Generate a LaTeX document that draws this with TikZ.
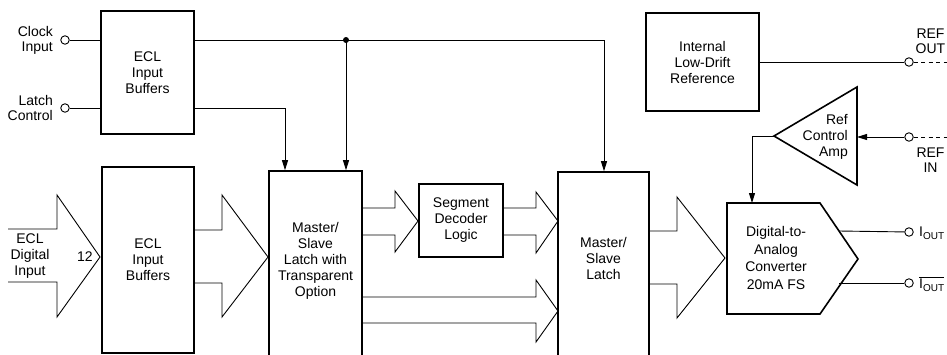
\documentclass[tikz,border=0pt]{standalone}
\usepackage{fontspec}
\setmainfont{Liberation Sans}
\usetikzlibrary{arrows.meta}
\begin{document}
\begin{tikzpicture}[x=1pt,y=-1pt,
  font=\fontsize{14}{16}\selectfont,
  blk/.style={draw, line width=1.6pt, inner sep=0pt, align=center},
  wire/.style={line width=0.9pt},
  bus/.style={line width=0.9pt, line join=miter},
  arr/.style={wire, -{Triangle[length=10pt,width=6pt]}},
  pin/.style={circle, draw, line width=0.9pt, minimum size=8.5pt, inner sep=0pt, fill=white},
  txt/.style={align=center, inner sep=0pt},
  dsh/.style={wire, dash pattern=on 4pt off 3.5pt}]
\useasboundingbox (0,0) rectangle (947,354);

% blocks
\node[blk, minimum width=93pt, minimum height=123pt] (ecl1) at (147.5,72.5) {ECL\\Input\\Buffers};
\node[blk, minimum width=92pt, minimum height=186pt] (ecl2) at (148,260) {ECL\\Input\\Buffers};
\node[blk, minimum width=93pt, minimum height=200pt] (m1) at (315.5,271) {};
\node[txt] (m1t) at (315.5,261) {Master/\\Slave\\Latch with\\Transparent\\Option};
\node[blk, minimum width=84pt, minimum height=73pt] (seg) at (461,220.5) {Segment\\Decoder\\Logic};
\node[blk, minimum width=91pt, minimum height=200pt] (m2) at (603.5,272) {};
\node[txt] (m2t) at (603.5,258) {Master/\\Slave\\Latch};
\node[blk, minimum width=113pt, minimum height=98pt] (ref) at (702.5,62) {Internal\\Low-Drift\\Reference};

% DAC
\draw[line width=1.6pt, line join=miter] (727,203) -- (820,203) -- (858,259) -- (820,314) -- (727,314) -- cycle;
\node[txt, font=\fontsize{14}{17.5}\selectfont] (dac) at (776,258) {Digital-to-\\Analog\\Converter\\20mA FS};
\coordinate (dacTop) at (752,203);
\coordinate (dacO1) at (839,231);
\coordinate (dacO2) at (839,283);

% amp
\draw[line width=1.6pt, line join=miter] (774,136) -- (857,87) -- (857,185) -- cycle;
\node[txt, align=right, anchor=east] (ampl) at (848,137) {Ref\\Control\\Amp};
\coordinate (ampTip) at (774,136);
\coordinate (ampIn) at (857,137);
\coordinate (ampL) at (752,136);

% pins
\node[pin] (clk) at (65,40) {};
\node[pin] (lat) at (65,108) {};
\node[pin] (refo) at (909,62) {};
\node[pin] (refi) at (909,137) {};
\node[pin] (io1) at (909,232) {};
\node[pin] (io2) at (909,283) {};

% pin labels
\node[txt, align=right, anchor=east, font=\fontsize{14}{15}\selectfont] (clkl) at (53,40) {Clock\\Input};
\node[txt, align=right, anchor=east, font=\fontsize{14}{15}\selectfont] (latl) at (53,108) {Latch\\Control};
\node[txt] (dinl) at (30,256) {ECL\\Digital\\Input};
\node[txt] (n12) at (85,257) {12};
\node[txt, font=\fontsize{14}{15}\selectfont] (refol) at (930.5,41) {REF\\OUT};
\node[txt, font=\fontsize{14}{15}\selectfont] (refil) at (930.5,160) {REF\\IN};
\node[txt, anchor=west] (io1l) at (919,233) {I\raisebox{-0.45ex}{\fontsize{10}{10}\selectfont OUT}};
\node[txt, anchor=west] (io2l) at (919,284) {$\overline{\hbox{I\raisebox{-0.45ex}{\fontsize{10}{10}\selectfont OUT}}}$};

% control wires
\coordinate (jn) at (346,40);
\coordinate (clkR) at (604,40);
\coordinate (latC) at (285,108);
\draw[wire] (clk) -- (clk -| ecl1.west);
\draw[wire] (lat) -- (lat -| ecl1.west);
\draw[wire] (clk -| ecl1.east) -- (jn);
\draw[arr] (jn) -- (jn |- m1.north);
\draw[arr] (jn) -- (clkR) -- (clkR |- m2.north);
\fill (jn) circle (3pt);
\draw[arr] (lat -| ecl1.east) -- (latC) -- (latC |- m1.north);

% reference wires
\draw[wire] (ref.east |- refo) -- (refo);
\draw[dsh] (refo.east) -- (950,62);
\draw[arr] (refi) -- (ampIn);
\draw[dsh] (refi.east) -- (950,137);
\draw[arr] (ampTip) -- (ampL) -- (dacTop);
\draw[wire] (dacO1) -- (io1);
\draw[wire] (dacO2) -- (io2);

% bus arrows
\draw[bus] (8,229) -- (57,229) -- (57,195) -- (100,257) -- (57,317) -- (57,282) -- (8,282);
\draw[bus] (194,230) -- (222,230) -- (222,195) -- (268,257) -- (222,317) -- (222,283) -- (194,283);
\draw[bus] (362,208) -- (395,208) -- (395,191) -- (418,221) -- (395,252) -- (395,235) -- (362,235);
\draw[bus] (503,208) -- (536,208) -- (536,192) -- (558,221) -- (536,253) -- (536,235) -- (503,235);
\draw[bus] (362,297) -- (536,297) -- (536,280) -- (558,311) -- (536,342) -- (536,323) -- (362,323);
\draw[bus] (649,231) -- (677,231) -- (677,197) -- (725,258) -- (677,318) -- (677,284) -- (649,284);
\end{tikzpicture}
\end{document}
